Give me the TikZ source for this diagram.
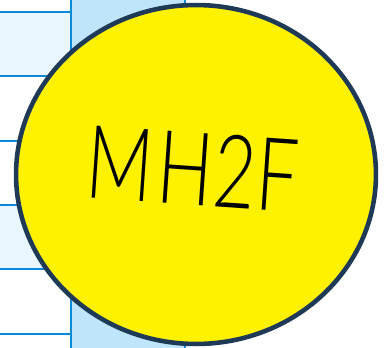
\documentclass[tikz,border=0pt]{standalone}
\usepackage{fontspec}
\setmainfont{Lato Light}
\usetikzlibrary{shapes.geometric}

\definecolor{rowblue}{HTML}{EAF6FD}
\definecolor{colblue}{HTML}{BFE5FB}
\definecolor{gridblue}{HTML}{0A8AD6}
\definecolor{rimnavy}{HTML}{1F3A57}

\begin{document}
\begin{tikzpicture}[x=0.02cm, y=-0.02cm]
    \tikzstyle{grid_line} = [draw=gridblue, line width=1.5pt]
    \tikzstyle{badge} = [ellipse, draw=rimnavy, line width=2.6pt, fill=yellow, inner sep=0pt, minimum width=7.2cm, minimum height=6.78cm]
    \tikzstyle{badge_text} = [font=\fontsize{58}{62}\selectfont, text=black, rotate=-4, xscale=0.72]

    \useasboundingbox (0,0) rectangle (389,348);

    % table behind
    \fill [rowblue] (0,12) rectangle (71,76);
    \fill [rowblue] (0,205) rectangle (71,269);
    \fill [colblue] (71,0) rectangle (185,348);
    \foreach \y in {12,76,141,205,269,334}
        \path [grid_line] (0,\y) -- (71,\y);
    \path [grid_line] (71,0) -- (71,348);
    \path [grid_line] (185,0) -- (185,348);

    \node [badge] (mh2f) at (196,174.5) {};
    \node [badge_text] (label) at (192.5,169) {M\kern0.07em H\kern0em 2\kern0.01em F};
\end{tikzpicture}
\end{document}
